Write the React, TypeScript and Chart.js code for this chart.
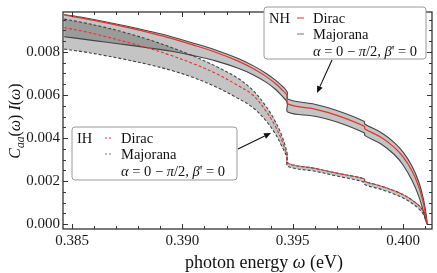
import React, { useEffect, useRef } from "react";
import { Chart, registerables } from "chart.js";
Chart.register(...registerables);

// photon energy (eV)
const omega = [0.38464, 0.3855, 0.3865, 0.3875, 0.3885, 0.3895, 0.3905, 0.3915, 0.3925, 0.3932, 0.3938, 0.3942, 0.3945, 0.39475, 0.39477, 0.396, 0.397, 0.39825, 0.39826, 0.399, 0.3996, 0.4, 0.4004, 0.4007, 0.4009, 0.401, 0.40109];

// NH band
const nhUpper = [0.009734, 0.009592, 0.009401, 0.009188, 0.008958, 0.008705, 0.008404, 0.008084, 0.007699, 0.007361, 0.006998, 0.006701, 0.00643, 0.006142, 0.005809, 0.005565, 0.005277, 0.004767, 0.004656, 0.004257, 0.003792, 0.003348, 0.002705, 0.001996, 0.001264, 0.000754, 0.000089];
const nhLower = [0.008705, 0.00859, 0.008457, 0.008324, 0.008182, 0.008027, 0.007827, 0.007583, 0.007251, 0.00694, 0.006585, 0.006275, 0.005965, 0.005654, 0.005211, 0.005011, 0.004745, 0.004235, 0.004124, 0.003725, 0.003237, 0.002749, 0.00204, 0.00133, 0.000665, 0.000266, 0];
const nhDirac = [0.009712, 0.009557, 0.009357, 0.009135, 0.008891, 0.008625, 0.008315, 0.007982, 0.007583, 0.007228, 0.006851, 0.006541, 0.006253, 0.005965, 0.005588, 0.005344, 0.005055, 0.004545, 0.004434, 0.004035, 0.00357, 0.003126, 0.002483, 0.001774, 0.001064, 0.000576, 0];

// IH band
const ihUpper = [0.009521, 0.009357, 0.009135, 0.008869, 0.008559, 0.008204, 0.007805, 0.007339, 0.006785, 0.006208, 0.005455, 0.004789, 0.004124, 0.003282, 0.002838, 0.002594, 0.002373, 0.002106, 0.001995, 0.001774, 0.001552, 0.001375, 0.001131, 0.000887, 0.000643, 0.000443, 0];
const ihLower = [0.008129, 0.008004, 0.007827, 0.007628, 0.007406, 0.00714, 0.006807, 0.006386, 0.005854, 0.00541, 0.004789, 0.004213, 0.003636, 0.00306, 0.002692, 0.002461, 0.002239, 0.001951, 0.00184, 0.001619, 0.001397, 0.00122, 0.000976, 0.000732, 0.000488, 0.000266, 0];
const ihDirac = [0.009122, 0.008958, 0.008714, 0.008448, 0.00816, 0.007827, 0.00745, 0.007007, 0.006452, 0.005987, 0.005233, 0.004568, 0.003902, 0.003149, 0.002838, 0.002594, 0.002373, 0.002106, 0.001995, 0.001774, 0.001552, 0.001375, 0.001131, 0.000887, 0.000643, 0.000443, 0];

const xTicks = [0.385, 0.39, 0.395, 0.4];
const yTicks = [0, 0.002, 0.004, 0.006, 0.008];
const xMinorStep = 0.001;
const yMinorStep = 0.0005;

const SERIF = "'Liberation Serif', 'Times New Roman', serif";
const RED = "#e3342f";
const EDGE = "#444";

type Seg = { t: string; it?: boolean; size: number; dy?: number };

function segWidth(ctx: CanvasRenderingContext2D, segs: Seg[]) {
  let w = 0;
  for (const s of segs) {
    ctx.font = `${s.it ? "italic " : ""}${s.size}px ${SERIF}`;
    w += ctx.measureText(s.t).width;
  }
  return w;
}
function drawSegs(ctx: CanvasRenderingContext2D, segs: Seg[], x: number, y: number) {
  let cx = x;
  for (const s of segs) {
    ctx.font = `${s.it ? "italic " : ""}${s.size}px ${SERIF}`;
    ctx.fillText(s.t, cx, y + (s.dy || 0));
    cx += ctx.measureText(s.t).width;
  }
}

const pts = (arr: number[]) => arr.map((v, i) => ({ x: omega[i], y: v }));

const decor = {
  id: "decor",
  afterDraw(chart: any) {
    const ctx: CanvasRenderingContext2D = chart.ctx;
    const { left, right, top, bottom } = chart.chartArea;
    const xs = chart.scales.x;
    const ys = chart.scales.y;
    ctx.save();
    // frame
    ctx.strokeStyle = "#333";
    ctx.lineWidth = 1.3;
    ctx.strokeRect(left, top, right - left, bottom - top);
    // ticks
    ctx.lineWidth = 1;
    ctx.beginPath();
    for (let k = 0; ; k++) {
      const v = 0.385 + k * xMinorStep;
      if (v > xs.max) break;
      const major = xTicks.some((t) => Math.abs(t - v) < 1e-7);
      const len = major ? 5 : 3;
      const px = Math.round(xs.getPixelForValue(v)) + 0.5;
      ctx.moveTo(px, bottom); ctx.lineTo(px, bottom - len);
      ctx.moveTo(px, top); ctx.lineTo(px, top + len);
    }
    for (let k = 0; ; k++) {
      const v = k * yMinorStep;
      if (v > ys.max) break;
      const major = yTicks.some((t) => Math.abs(t - v) < 1e-9);
      const len = major ? 5 : 3;
      const py = Math.round(ys.getPixelForValue(v)) + 0.5;
      ctx.moveTo(left, py); ctx.lineTo(left + len, py);
      ctx.moveTo(right, py); ctx.lineTo(right - len, py);
    }
    ctx.stroke();

    // axis titles
    ctx.fillStyle = "#111";
    ctx.textBaseline = "alphabetic";
    const xt: Seg[] = [
      { t: "photon energy ", size: 18 },
      { t: "ω", it: true, size: 18 },
      { t: " (eV)", size: 18 },
    ];
    const xw = segWidth(ctx, xt);
    drawSegs(ctx, xt, 264 - xw / 2, 268);

    const yt: Seg[] = [
      { t: "C", it: true, size: 16 },
      { t: "aa", it: true, size: 11.5, dy: 4 },
      { t: "(", size: 16 },
      { t: "ω", it: true, size: 16 },
      { t: ") ", size: 16 },
      { t: "I", it: true, size: 16 },
      { t: "(", size: 16 },
      { t: "ω", it: true, size: 16 },
      { t: ")", size: 16 },
    ];
    const yw = segWidth(ctx, yt);
    ctx.save();
    ctx.translate(19.5, 121);
    ctx.rotate(-Math.PI / 2);
    drawSegs(ctx, yt, -yw / 2, 0);
    ctx.restore();

    // legends
    const box = (x: number, y: number, w: number, h: number) => {
      ctx.beginPath();
      const r = 3;
      ctx.moveTo(x + r, y);
      ctx.arcTo(x + w, y, x + w, y + h, r);
      ctx.arcTo(x + w, y + h, x, y + h, r);
      ctx.arcTo(x, y + h, x, y, r);
      ctx.arcTo(x, y, x + w, y, r);
      ctx.closePath();
      ctx.fillStyle = "#fff";
      ctx.fill();
      ctx.strokeStyle = "#9a9a9a";
      ctx.lineWidth = 1;
      ctx.stroke();
    };
    const alphaRow: Seg[] = [
      { t: "α", it: true, size: 14.5 },
      { t: " = 0 − ", size: 14.5 },
      { t: "π", it: true, size: 14.5 },
      { t: "/2, ", size: 14.5 },
      { t: "β", it: true, size: 14.5 },
      { t: "' = 0", size: 14.5 },
    ];
    const legend = (bx: number, by: number, bw: number, bh: number, tag: string, dashed: boolean) => {
      box(bx, by, bw, bh);
      const tx = bx + 49;
      const r1 = by + 15.5;
      ctx.fillStyle = "#111";
      ctx.textBaseline = "alphabetic";
      ctx.font = `14.5px ${SERIF}`;
      ctx.fillText(tag, bx + 5, r1);
      ctx.fillText("Dirac", tx, r1);
      ctx.fillText("Majorana", tx, r1 + 16);
      drawSegs(ctx, alphaRow, tx, r1 + 33);
      ctx.lineWidth = 1;
      ctx.setLineDash(dashed ? [2, 2] : []);
      ctx.strokeStyle = RED;
      ctx.beginPath(); ctx.moveTo(bx + 33, r1 - 4.5); ctx.lineTo(bx + 40, r1 - 4.5); ctx.stroke();
      ctx.strokeStyle = "#777";
      ctx.beginPath(); ctx.moveTo(bx + 33, r1 + 11.5); ctx.lineTo(bx + 40, r1 + 11.5); ctx.stroke();
      ctx.setLineDash([]);
    };
    legend(264, 7, 162, 52, "NH", false);
    legend(72, 127, 165, 53, "IH", true);

    // arrows
    const arrow = (x1: number, y1: number, x2: number, y2: number) => {
      ctx.strokeStyle = "#111";
      ctx.fillStyle = "#111";
      ctx.lineWidth = 1.1;
      const a = Math.atan2(y2 - y1, x2 - x1);
      const hl = 7, hw = 3;
      const bx = x2 - hl * Math.cos(a), by = y2 - hl * Math.sin(a);
      ctx.beginPath(); ctx.moveTo(x1, y1); ctx.lineTo(bx, by); ctx.stroke();
      ctx.beginPath();
      ctx.moveTo(x2, y2);
      ctx.lineTo(bx + hw * Math.sin(a), by - hw * Math.cos(a));
      ctx.lineTo(bx - hw * Math.sin(a), by + hw * Math.cos(a));
      ctx.closePath();
      ctx.fill();
    };
    arrow(332, 60, 317, 93);
    arrow(238, 149, 271, 133);
    ctx.restore();
  },
};

export default function App() {
  const ref = useRef<HTMLCanvasElement | null>(null);
  useEffect(() => {
    document.body.style.margin = "0";
    if (!ref.current) return;
    const line = (data: number[], color: string, dash: number[], width: number, order: number, fill: any = false, bg = "transparent") => ({
      data: pts(data),
      borderColor: color,
      borderWidth: width,
      borderDash: dash,
      backgroundColor: bg,
      fill,
      pointRadius: 0,
      tension: 0.35,
      order,
    });
    const bandColor = "rgba(60,60,60,0.3)";
    const chart = new Chart(ref.current, {
      type: "line",
      data: {
        datasets: [
          line(nhUpper, EDGE, [], 1.1, 3, 1, bandColor),
          line(nhLower, EDGE, [], 1.1, 3),
          line(ihUpper, EDGE, [3, 2], 1.1, 3, 3, bandColor),
          line(ihLower, EDGE, [3, 2], 1.1, 3),
          line(nhDirac, RED, [], 1.2, 1),
          line(ihDirac, RED, [3, 2], 1.1, 1),
        ],
      },
      options: {
        animation: false,
        responsive: false,
        maintainAspectRatio: false,
        layout: { padding: { top: 2, right: 5, left: 0, bottom: 0 } },
        plugins: {
          legend: { display: false },
          tooltip: { enabled: false },
          filler: { drawTime: "beforeDatasetsDraw", propagate: false },
        },
        scales: {
          x: {
            type: "linear",
            min: 0.38459,
            max: 0.40131,
            grid: { display: false, drawTicks: false },
            border: { display: false },
            ticks: {
              font: { family: SERIF, size: 15 },
              color: "#1a1a1a",
              padding: 3,
              maxRotation: 0,
              autoSkip: false,
              callback: (v: any) => Number(v).toFixed(3),
            },
            afterBuildTicks: (s: any) => { s.ticks = xTicks.map((v) => ({ value: v })); },
            afterFit: (s: any) => { s.height = 44; },
          },
          y: {
            type: "linear",
            min: -0.00022,
            max: 0.00985,
            grid: { display: false, drawTicks: false },
            border: { display: false },
            ticks: {
              font: { family: SERIF, size: 15 },
              color: "#1a1a1a",
              padding: 3,
              autoSkip: false,
              callback: (v: any) => Number(v).toFixed(3),
            },
            afterBuildTicks: (s: any) => { s.ticks = yTicks.map((v) => ({ value: v })); },
            afterFit: (s: any) => { s.width = 63; },
          },
        },
      },
      plugins: [decor],
    } as any);
    return () => chart.destroy();
  }, []);
  return <canvas ref={ref} width={437} height={273} style={{ display: "block" }} />;
}
